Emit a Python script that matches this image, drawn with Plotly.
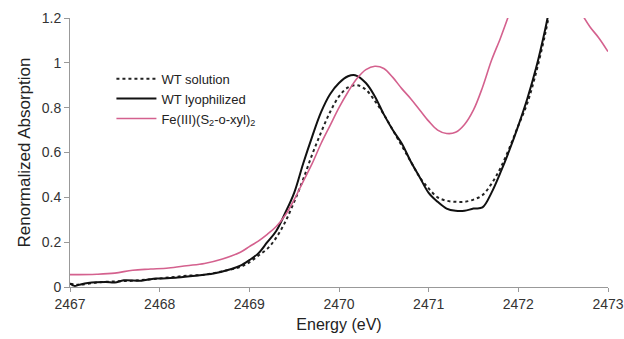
import plotly.graph_objects as go

energy_lyo = [2467.0, 2467.05, 2467.1, 2467.2, 2467.4, 2467.5, 2467.6, 2467.8, 2467.9, 2468.0,
              2468.2, 2468.4, 2468.6, 2468.8, 2468.9, 2469.0, 2469.1, 2469.2, 2469.3, 2469.4,
              2469.5, 2469.6, 2469.7, 2469.8, 2469.9, 2470.0, 2470.1, 2470.18, 2470.3, 2470.4,
              2470.5, 2470.6, 2470.7, 2470.8, 2470.9, 2471.0, 2471.1, 2471.2, 2471.3, 2471.4,
              2471.5, 2471.6, 2471.7, 2471.8, 2471.9, 2472.0, 2472.1, 2472.2, 2472.3, 2472.35]
abs_lyo = [0.015, 0.005, 0.01, 0.018, 0.022, 0.02, 0.03, 0.028, 0.035, 0.038,
           0.042, 0.05, 0.06, 0.08, 0.095, 0.12, 0.15, 0.2, 0.25, 0.33,
           0.42, 0.55, 0.67, 0.78, 0.86, 0.91, 0.94, 0.945, 0.91, 0.85,
           0.77, 0.70, 0.64, 0.56, 0.49, 0.42, 0.38, 0.35, 0.34, 0.34,
           0.35, 0.355, 0.42, 0.51, 0.61, 0.72, 0.84, 0.98, 1.15, 1.25]

energy_sol = [2467.0, 2467.1, 2467.3, 2467.5, 2467.7, 2467.9, 2468.1, 2468.3, 2468.5, 2468.7,
              2468.9, 2469.0, 2469.1, 2469.2, 2469.3, 2469.4, 2469.5, 2469.6, 2469.7, 2469.8,
              2469.9, 2470.0, 2470.1, 2470.2, 2470.3, 2470.4, 2470.5, 2470.6, 2470.7, 2470.8,
              2470.9, 2471.0, 2471.1, 2471.2, 2471.3, 2471.4, 2471.5, 2471.6, 2471.7, 2471.8,
              2471.9, 2472.0, 2472.1, 2472.2, 2472.3, 2472.36]
abs_sol = [0.015, 0.01, 0.02, 0.025, 0.028, 0.035, 0.042, 0.05, 0.055, 0.07,
           0.09, 0.11, 0.14, 0.17, 0.22, 0.29, 0.38, 0.48, 0.59, 0.69,
           0.78, 0.85, 0.89, 0.90, 0.88, 0.83, 0.77, 0.70, 0.63, 0.56,
           0.49, 0.44, 0.40, 0.385, 0.38, 0.38, 0.39, 0.41, 0.46, 0.53,
           0.62, 0.72, 0.82, 0.96, 1.13, 1.25]

energy_fe = [2467.0, 2467.3, 2467.5, 2467.7, 2467.9, 2468.1, 2468.3, 2468.5, 2468.7, 2468.9,
             2469.0, 2469.1, 2469.2, 2469.3, 2469.4, 2469.5, 2469.6, 2469.7, 2469.8, 2469.9,
             2470.0, 2470.1, 2470.2, 2470.3, 2470.4, 2470.5, 2470.6, 2470.7, 2470.8, 2470.9,
             2471.0, 2471.1, 2471.2, 2471.3, 2471.4, 2471.5, 2471.6, 2471.7, 2471.8, 2471.9,
             None, 2472.72, 2472.8, 2472.9, 2473.0]
abs_fe = [0.055, 0.057, 0.062, 0.075, 0.08, 0.085, 0.095, 0.105, 0.125, 0.155,
          0.18, 0.205, 0.235, 0.27, 0.32, 0.39, 0.47, 0.55, 0.64, 0.72,
          0.80, 0.87, 0.93, 0.97, 0.985, 0.975, 0.935, 0.885, 0.84, 0.79,
          0.74, 0.70, 0.685, 0.69, 0.725, 0.79, 0.89, 1.01, 1.11, 1.22,
          None, 1.21, 1.16, 1.11, 1.05]

x_ticks = [2467, 2468, 2469, 2470, 2471, 2472, 2473]
y_ticks = [0, 0.2, 0.4, 0.6, 0.8, 1, 1.2]
y_tick_labels = ["0", "0.2", "0.4", "0.6", "0.8", "1", "1.2"]

fig = go.Figure()
fig.add_trace(go.Scatter(x=energy_sol, y=abs_sol, mode="lines", name="WT solution",
                         line=dict(color="#222222", width=2, dash="dot", shape="spline")))
fig.add_trace(go.Scatter(x=energy_lyo, y=abs_lyo, mode="lines", name="WT lyophilized",
                         line=dict(color="#111111", width=2, shape="spline")))
fig.add_trace(go.Scatter(x=energy_fe, y=abs_fe, mode="lines",
                         name="Fe(III)(S<sub>2</sub>-o-xyl)<sub>2</sub>",
                         line=dict(color="#d4618e", width=1.6, shape="spline")))

fig.update_layout(
    width=624, height=339,
    margin=dict(l=70, r=16, t=18, b=52),
    paper_bgcolor="white", plot_bgcolor="white",
    font=dict(family="Liberation Sans, Arial, sans-serif", color="#333333", size=14),
    showlegend=True,
    legend=dict(x=0.077, y=0.83, xanchor="left", yanchor="top",
                bgcolor="rgba(0,0,0,0)", font=dict(size=13, color="#222222"),
                tracegroupgap=0, itemwidth=40),
    xaxis=dict(range=[2467, 2473], tickvals=x_ticks, ticktext=[str(v) for v in x_ticks],
               showgrid=False, zeroline=False, showline=True, linecolor="#999999",
               linewidth=1, ticks="outside", ticklen=4, tickcolor="#999999",
               automargin=False,
               title=dict(text="Energy (eV)", font=dict(size=16, color="#222222"), standoff=8),
               tickfont=dict(size=14, color="#333333")),
    yaxis=dict(range=[0, 1.2], tickvals=y_ticks, ticktext=y_tick_labels,
               showgrid=False, zeroline=False, showline=True, linecolor="#999999",
               linewidth=1, ticks="outside", ticklen=5, tickcolor="#999999",
               automargin=False,
               title=dict(text="Renormalized Absorption", font=dict(size=17, color="#222222"), standoff=6),
               tickfont=dict(size=14, color="#333333")),
)

fig.write_html("out.html")
